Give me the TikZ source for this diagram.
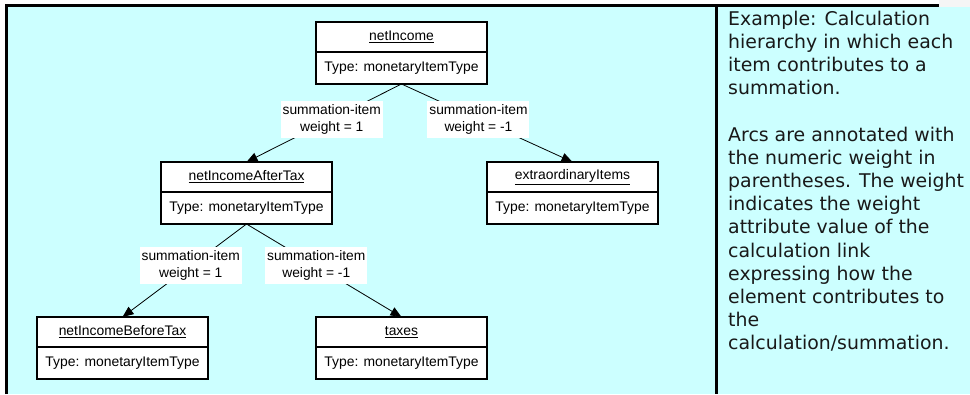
\documentclass[tikz,border=0pt]{standalone}
\usepackage{fontspec}
\setmainfont{Liberation Sans}
\newfontfamily\notefont{DejaVu Sans}
\usepackage{tikz}
\usetikzlibrary{positioning}
\usetikzlibrary{arrows.meta}
\definecolor{panecyan}{RGB}{204,255,255}
\tikzset{itemname/.style={draw, fill=white, line width=1.2pt, outer sep=0pt, inner sep=0pt, minimum width=171pt, minimum height=30pt, font=\fontsize{13.9}{16}\selectfont}}
\tikzset{itemtype/.style={itemname, minimum height=32pt}}
\tikzset{arclabel/.style={fill=white, align=center, inner sep=0pt, minimum width=102pt, minimum height=37pt, font=\fontsize{13.8}{17}\selectfont, pos=0.45}}
\tikzset{contrib/.style={-{Triangle[length=11pt,width=9pt]}, line width=0.8pt}}

\begin{document}
\begin{tikzpicture}[x=1pt,y=-1pt]
\useasboundingbox (0,0) rectangle (970,394);
\fill[panecyan] (6,5) rectangle (970,394);
\fill[gray!8] (939,0) rectangle (970,7);
\draw[line width=3pt] (6,394) -- (6,5) -- (939,5);
\draw[line width=3pt] (716,5) -- (716,394);
% items
\node[itemname] (ni) at (401.5,37) {\underline{netIncome}};
\node[itemtype, below=0pt of ni] (niT) {Type: monetaryItemType};
\node[itemname] (nat) at (246.5,177) {\underline{netIncomeAfterTax}};
\node[itemtype, below=0pt of nat] (natT) {Type: monetaryItemType};
\node[itemname] (ei) at (572.5,177) {\underline{extraordinaryItems}};
\node[itemtype, below=0pt of ei] (eiT) {Type: monetaryItemType};
\node[itemname] (nbt) at (122.5,332) {\underline{netIncomeBeforeTax}};
\node[itemtype, below=0pt of nbt] (nbtT) {Type: monetaryItemType};
\node[itemname] (tx) at (401.5,332) {\underline{taxes}};
\node[itemtype, below=0pt of tx] (txT) {Type: monetaryItemType};
% arcs
\draw[contrib] (niT.south) -- node[arclabel] (w1) {summation-item\\weight = 1} (nat.north);
\draw[contrib] (niT.south) -- node[arclabel] (w2) {summation-item\\weight = -1} (ei.north);
\draw[contrib] (natT.south) -- node[arclabel] (w3) {summation-item\\weight = 1} (nbt.north);
\draw[contrib] (natT.south) -- node[arclabel] (w4) {summation-item\\weight = -1} (tx.north);
% note
\node[anchor=north west, inner sep=0pt, align=left, text=black!90, font=\notefont\fontsize{18.9}{23.2}\selectfont] (note) at (728,10.6)
  {Example: Calculation\\hierarchy in which each\\item contributes to a\\summation.\\[23.2pt]Arcs are annotated with\\the numeric weight in\\parentheses. The weight\\indicates the weight\\attribute value of the\\calculation link\\expressing how the\\element contributes to\\the\\calculation/summation.};
\end{tikzpicture}
\end{document}
